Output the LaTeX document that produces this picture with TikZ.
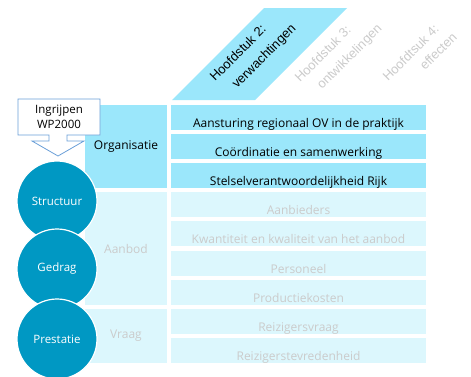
\documentclass[tikz,border=0pt]{standalone}
\usepackage{fontspec}
\setmainfont{Open Sans}
\newfontfamily\headfont{Liberation Sans}
\definecolor{orgcyan}{HTML}{9BE7FB}
\definecolor{palecyan}{HTML}{DCF7FD}
\definecolor{circblue}{HTML}{0098C3}
\definecolor{fadegray}{HTML}{CBCBCB}
\definecolor{callline}{HTML}{6A9FD8}
\begin{document}
\begin{tikzpicture}[x=1pt,y=-1pt,
    rowbox/.style={minimum width=255pt, inner sep=0pt, text height=22pt, text depth=3pt,
        font=\fontsize{12}{13}\selectfont},
    rowdark/.style={rowbox, fill=orgcyan, text=black},
    rowlight/.style={rowbox, fill=palecyan, text=fadegray},
    catbox/.style={minimum width=82pt, inner sep=0pt, font=\fontsize{12}{13}\selectfont},
    stagecirc/.style={circle, minimum size=80pt, inner sep=0pt, fill=circblue, draw=white,
        line width=1.2pt, text=white, font=\fontsize{11.5}{13}\selectfont},
    headtext/.style={rotate=45, anchor=base west, inner sep=0pt,
        font=\headfont\fontsize{13}{13}\selectfont}]
    \useasboundingbox (0,0) rectangle (471,376);

    % kop
    \fill[orgcyan] (172,100) -- (255,100) -- (347,8) -- (264,8) -- cycle;
    \node[headtext] (hfd2a) at (215,82) {Hoofdstuk 2:};
    \node[headtext] (hfd2b) at (237,89) {verwachtingen};
    \node[headtext, text=fadegray] (hfd3a) at (300,83) {Hoofdstuk 3:};
    \node[headtext, text=fadegray] (hfd3b) at (322,90) {ontwikkelingen};
    \node[headtext, text=fadegray] (hfd4a) at (388,82) {Hoofdtsuk 4:};
    \node[headtext, text=fadegray] (hfd4b) at (425,71) {effecten};

    % categorieen
    \node[catbox, fill=orgcyan, minimum height=83pt] (org) at (126,146.5) {Organisatie};
    \node[catbox, fill=palecyan, text=fadegray, minimum height=113pt] (aanbod) at (126,248.5) {Aanbod};
    \node[catbox, fill=palecyan, text=fadegray, minimum height=54pt] (vraag) at (126,336) {Vraag};

    % rijen
    \node[rowdark] (sturing) at (298.5,117.5) {Aansturing regionaal OV in de praktijk};
    \node[rowdark] (coord) at (298.5,146.5) {Coördinatie en samenwerking};
    \node[rowdark] (stelsel) at (298.5,175.5) {Stelselverantwoordelijkheid Rijk};
    \node[rowlight] (aanbieders) at (298.5,204.5) {Aanbieders};
    \node[rowlight] (kwant) at (298.5,233.5) {Kwantiteit en kwaliteit van het aanbod};
    \node[rowlight] (personeel) at (298.5,263.5) {Personeel};
    \node[rowlight] (kosten) at (298.5,292.5) {Productiekosten};
    \node[rowlight] (rvraag) at (298.5,321.5) {Reizigersvraag};
    \node[rowlight] (tevreden) at (298.5,350.5) {Reizigerstevredenheid};

    % cirkels
    \node[stagecirc] (structuur) at (57,201) {Structuur};
    \node[stagecirc] (gedrag) at (57,269) {Gedrag};
    \node[stagecirc] (prestatie) at (57,339) {Prestatie};

    % ingreep
    \draw[callline, fill=white, line width=0.8pt] (18,99) -- (100,99) -- (100,135) -- (67,135) -- (67,141)
        -- (84,141) -- (58,156) -- (32,141) -- (49,141) -- (49,135) -- (18,135) -- cycle;
    \node[align=center, inner sep=0pt, font=\fontsize{11.5}{14.5}\selectfont] (wp) at (59,117) {Ingrijpen\\WP2000};
\end{tikzpicture}
\end{document}
